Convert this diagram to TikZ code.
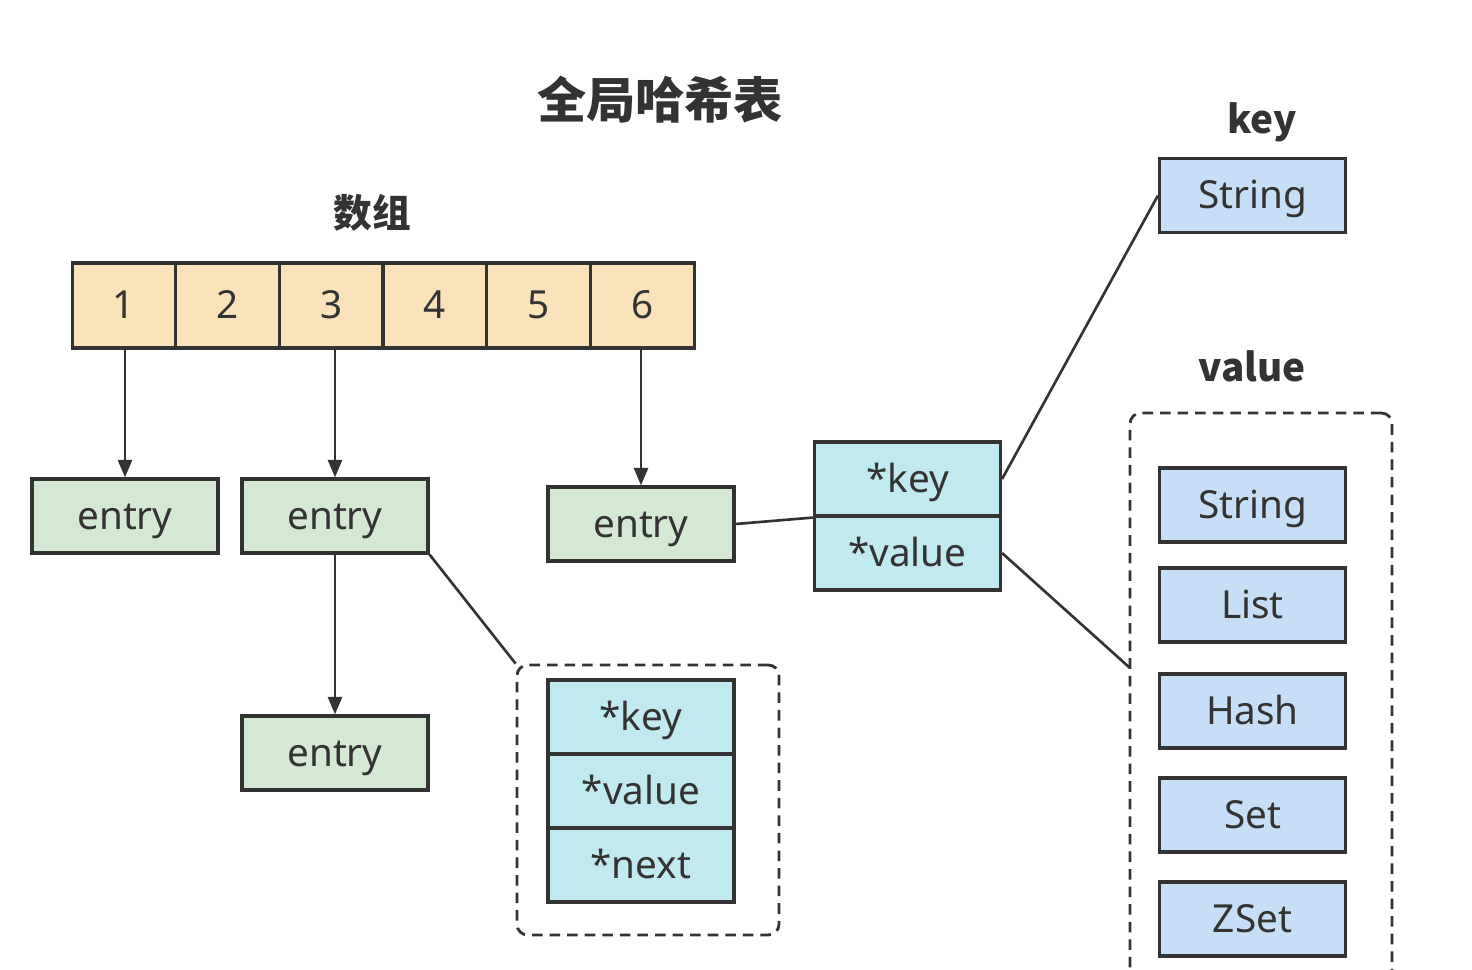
\documentclass[tikz,border=0pt]{standalone}
\usepackage{fontspec}
\setmainfont{Noto Sans}
\newfontfamily\cjk{Noto Sans CJK SC}
\usetikzlibrary{arrows.meta}
\definecolor{linec}{HTML}{333333}
\definecolor{txt}{HTML}{333333}
\definecolor{arrfill}{HTML}{FAE3BA}
\definecolor{entfill}{HTML}{D5E8D4}
\definecolor{ptrfill}{HTML}{C0E9F0}
\definecolor{typfill}{HTML}{C6DFF6}
\begin{document}
\begin{tikzpicture}[x=0.02cm, y=-0.02cm,
    cell/.style={draw=linec, line width=1.8pt, fill=arrfill, minimum width=2.07cm, minimum height=1.7cm, inner sep=0pt, text=txt, text height=15pt, text depth=0pt, font=\fontsize{22}{26}\selectfont},
    entry/.style={cell, fill=entfill, minimum width=3.72cm, minimum height=1.48cm},
    ptr/.style={entry, fill=ptrfill},
    typ/.style={entry, fill=typfill},
    grp/.style={draw=linec, line width=1.6pt, dash pattern=on 6pt off 4pt, rounded corners=6pt, inner sep=0pt},
    link/.style={draw=linec, line width=1.5pt},
    arr/.style={link, -{Triangle[width=8pt,length=10pt]}},
    lbl/.style={text=txt, font=\cjk\bfseries\fontsize{22}{26}\selectfont}
]
\useasboundingbox (0,0) rectangle (1472,970);
\clip (0,0) rectangle (1472,970);

% labels
\node[lbl, font=\cjk\bfseries\fontsize{28}{32}\selectfont] (title) at (660,100) {全局哈希表};
\node[lbl] (arrlbl) at (372,213) {数组};
\node[lbl] (keylbl) at (1262,122) {key};
\node[lbl] (vallbl) at (1252,366) {value};

% array
\foreach \n [count=\i] in {1,...,6}
    \node[cell] (c\i) at ({20.15+103.7*\i}, 305.5) {\n};

% entries
\node[entry] (e1) at (125,516) {entry};
\node[entry] (e2) at (335,516) {entry};
\node[entry] (e3) at (641,524) {entry};
\node[entry] (e4) at (335,753) {entry};

% entry struct
\node[grp, minimum width=5.24cm, minimum height=5.4cm] (g1) at (648,800) {};
\node[ptr] (gk) at (641,717) {*key};
\node[ptr] (gv) at (641,791) {*value};
\node[ptr] (gn) at (641,865) {*next};

% key / value pointers
\node[ptr] (mk) at (907.5,479) {*key};
\node[ptr] (mv) at (907.5,553) {*value};

% types
\node[typ] (ks) at (1252.5,195.5) {String};
\node[grp, minimum width=5.24cm, minimum height=11.74cm] (g2) at (1261,706.5) {};
\node[typ] (vs) at (1252.5,505) {String};
\node[typ] (vl) at (1252.5,605) {List};
\node[typ] (vh) at (1252.5,711) {Hash};
\node[typ] (vt) at (1252.5,815) {Set};
\node[typ] (vz) at (1252.5,919) {ZSet};
\coordinate (vin) at (1130,668);

% connectors
\draw[arr] (e1.north |- c1.south) -- (e1.north);
\draw[arr] (e2.north |- c3.south) -- (e2.north);
\draw[arr] (e3.north |- c6.south) -- (e3.north);
\draw[arr] (e2.south) -- (e4.north);
\draw[link] (e2.south east) -- (g1.north west);
\draw[link] (e3.east) -- (mk.south west);
\draw[link] (mk.east) -- (ks.west);
\draw[link] (mv.east) -- (vin);

\end{tikzpicture}
\end{document}
